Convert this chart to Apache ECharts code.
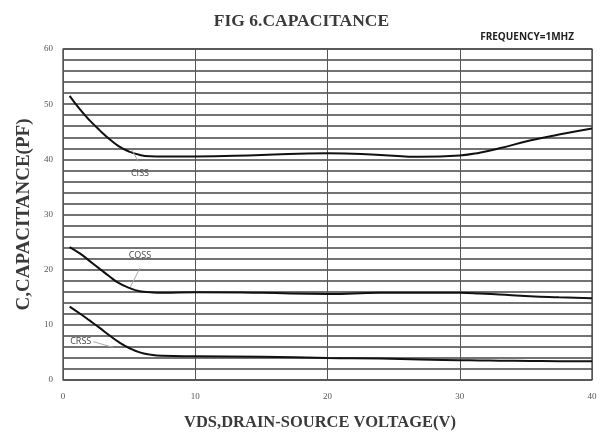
<!DOCTYPE html>
<html><head><meta charset="utf-8">
<script src="https://cdn.jsdelivr.net/npm/echarts@6/dist/echarts.min.js"></script>
<style>html,body{margin:0;padding:0;background:#fff}#c{width:603px;height:432px}</style>
</head><body><div id="c"></div>
<script>
const voltage = [0.5, 1.3, 2, 2.8, 3.5, 4.2, 5, 5.8, 6.6, 7.5, 10, 15, 20, 24, 27, 30, 31.5, 33, 35.3, 37.5, 40];
const ciss = [51.5, 49.0, 47.1, 45.2, 43.7, 42.4, 41.4, 40.8, 40.55, 40.5, 40.5, 40.8, 41.1, 40.8, 40.45, 40.7, 41.2, 42.0, 43.4, 44.5, 45.6];
const coss = [24.1, 22.9, 21.6, 20.1, 18.8, 17.6, 16.7, 16.1, 15.9, 15.8, 15.9, 15.8, 15.6, 15.8, 15.8, 15.8, 15.7, 15.5, 15.2, 15.0, 14.8];
const crss = [13.3, 12.0, 10.8, 9.4, 8.1, 6.9, 5.8, 5.0, 4.6, 4.4, 4.3, 4.2, 4.0, 3.9, 3.7, 3.6, 3.55, 3.5, 3.45, 3.4, 3.4];
const xTicks = [0, 10, 20, 30, 40];
const yTicks = [0, 10, 20, 30, 40, 50, 60];
const seriesNames = ['CISS', 'COSS', 'CRSS'];
// annotation anchors in data units: label point, leader start, leader end
const labelAt = [[5.82, 37.5], [5.82, 22.5], [1.34, 6.94]];
const leaderFrom = [[5.7, 39.6], [5.82, 20.3], [2.3, 6.94]];
const leaderTo = [[5.2, 41.7], [5.1, 16.9], [3.8, 5.9]];

const values = [ciss, coss, crss];
const chart = echarts.init(document.getElementById('c'));
const serif = '"Liberation Serif", "DejaVu Serif", serif';
chart.setOption({
  backgroundColor: '#fff',
  animation: false,
  title: [
    {text: 'FIG 6.CAPACITANCE', left: 'center', top: 7,
     textStyle: {fontFamily: serif, fontWeight: 'bold', fontSize: 17.5, color: '#3a3a3a'}},
    {text: 'FREQUENCY=1MHZ', right: 24, top: 27,
     textStyle: {fontFamily: '"Open Sans", sans-serif', fontWeight: 'bold', fontSize: 10, color: '#222'}}
  ],
  grid: {left: 63, right: 11, top: 49, bottom: 52, containLabel: false, outerBoundsMode: 'none',
         show: true, borderColor: '#333', borderWidth: 1.2},
  xAxis: {
    type: 'value', min: xTicks[0], max: xTicks[xTicks.length - 1], interval: 10,
    name: 'VDS,DRAIN-SOURCE VOLTAGE(V)', nameLocation: 'middle', nameGap: 34,
    nameTextStyle: {fontFamily: serif, fontWeight: 'bold', fontSize: 16.5, color: '#3a3a3a', padding: [0, 15, 0, 0]},
    axisLine: {show: false}, axisTick: {show: false},
    axisLabel: {fontFamily: serif, fontSize: 9, color: '#555', margin: 12},
    splitLine: {show: true, lineStyle: {color: '#555', width: 1}}
  },
  yAxis: {
    type: 'value', min: yTicks[0], max: yTicks[yTicks.length - 1], interval: 10,
    name: 'C,CAPACITANCE(PF)', nameLocation: 'middle', nameGap: 29,
    nameTextStyle: {fontFamily: serif, fontWeight: 'bold', fontSize: 19, color: '#3a3a3a'},
    axisLine: {show: false}, axisTick: {show: false},
    axisLabel: {fontFamily: serif, fontSize: 9, color: '#555', margin: 10},
    splitLine: {show: true, lineStyle: {color: '#444', width: 1.6}},
    minorTick: {show: false, splitNumber: 5},
    minorSplitLine: {show: true, lineStyle: {color: '#444', width: 1.6}}
  },
  series: values.map((vals, i) => ({
    name: seriesNames[i], type: 'line', smooth: 0.5, symbol: 'none',
    data: voltage.map((v, j) => [v, vals[j]]),
    lineStyle: {color: '#111', width: 2},
    markPoint: {
      symbol: 'circle', symbolSize: 0,
      data: [{coord: labelAt[i], label: {show: true, formatter: seriesNames[i],
        fontFamily: '"Open Sans", sans-serif', fontSize: 9, color: '#444', position: 'inside'}}]
    },
    markLine: {
      symbol: 'none', silent: true, label: {show: false},
      lineStyle: {color: '#aaa', width: 1, type: 'solid'},
      data: [[{coord: leaderFrom[i]}, {coord: leaderTo[i]}]]
    }
  }))
});
</script></body></html>
